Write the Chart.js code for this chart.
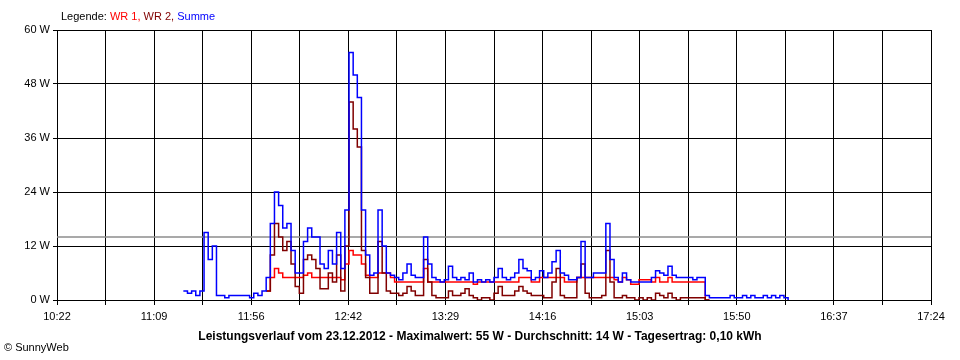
<!DOCTYPE html>
<html>
<head>
<meta charset="utf-8">
<script src="https://cdn.jsdelivr.net/npm/chart.js@4/dist/chart.umd.min.js"></script>
<style>
  body { margin: 0; background: #fff; }
  #wrap { position: relative; width: 960px; height: 360px; font-family: 'Liberation Sans', Arial, sans-serif; }
  #legend { position: absolute; left: 61px; top: 10px; font-size: 11px; color: #000; }
  #caption { position: absolute; left: 0; top: 329px; width: 960px; text-align: center; font-size: 12px; font-weight: bold; }
  #copy { position: absolute; left: 4px; top: 341px; font-size: 11px; }
</style>
</head>
<body>
<div id="wrap">
  <canvas id="chart"></canvas>
  <div id="legend">Legende: <span style="color:#ff0000">WR 1,</span> <span style="color:#800000">WR 2,</span> <span style="color:#0000ff">Summe</span></div>
  <div id="caption">Leistungsverlauf vom 23.12.2012 - Maximalwert: 55 W - Durchschnitt: 14 W - Tagesertrag: 0,10 kWh</div>
  <div id="copy">© SunnyWeb</div>
</div>
<script>
// x axis: minutes after 10:22, one sample every 2 minutes starting at 11:23
const tickLabels = ['10:22', '11:09', '11:56', '12:42', '13:29', '14:16', '15:03', '15:50', '16:37', '17:24'];
const axisSpan = 422;     // 10:22 -> 17:24
const sampleStart = 61;
const sampleStep = 2;
const yTicks = [0, 12, 24, 36, 48, 60];
const average = 14;

// Summe (W)
const summe = [
  2, 1.5, 2, 1, 2, 15, 9, 12, 1, 1,
  0.5, 1, 1, 1, 1, 1, 0.5, 1.5, 1, 2,
  5, 17, 24, 21, 16, 17, 11, 6, 6, 13,
  16, 14, 14, 8, 7, 11, 8, 15, 7, 20,
  55, 50, 45, 20, 10, 5.5, 6, 20, 12, 6,
  5.5, 5, 4.5, 6, 8, 5.5, 5, 5, 14, 8,
  5, 4.5, 4, 4.5, 7.5, 5, 4.5, 5, 4.5, 6,
  4, 4.5, 4, 4.5, 4, 5, 7, 5, 4.5, 5,
  6, 9, 7, 6.5, 4.5, 5, 6.5, 5, 6, 8.5,
  11, 6, 5.5, 4.5, 4.5, 5, 13, 5, 5, 6,
  6, 6, 17, 9, 5, 4, 6, 4.5, 4, 4,
  4, 4, 4, 5, 6.5, 6, 5.5, 7.5, 5.5, 5,
  5, 5, 5, 4.5, 5, 5, 1, 0.5, 0.5, 0.5,
  0.5, 0.5, 1, 0.5, 0.5, 1, 0.5, 1, 0.5, 0.5,
  1, 0.5, 1, 0.5, 1, 0.5, 0
];

// WR 1 (W)
const wr1 = [
  null, null, null, null, null, null, null, null, null, null,
  null, null, null, null, null, null, null, null, null, null,
  2, 5, 7, 6, 5, 5, 5, 5, 5, 5.5,
  6, 5, 5, 5, 5, 5, 5, 5, 4.5, 8,
  11, 10, 10, 8, 5.5, 5, 5, 6, 6, 6,
  5, 4, 4, 4, 4, 4, 4, 4, 7, 4,
  4, 4, 4, 4, 4, 4, 4, 4, 4, 4,
  3.5, 4, 4, 4, 4, 4, 4, 4, 4, 4,
  4, 5, 5, 5, 4, 4, 5, 5, 5, 5,
  5, 5, 4, 4, 4, 5, 5, 5, 5, 5,
  5, 5, 5, 5, 4.5, 4, 5, 4.5, 3.5, 3.5,
  4.5, 4.5, 4.5, 4, 5, 4, 4, 5, 4, 4,
  4, 4, 4, 4, 4, 4, 0, 0, null, null,
  null, null, null, null, null, null, null, null, null, null,
  null, null, null, null, null, null, null
];

// WR 2 (W)
const wr2 = [
  null, null, null, null, null, null, null, null, null, null,
  null, null, null, null, null, null, null, null, null, null,
  2, 10, 17, 14, 11, 13, 8, 3, 1.5, 9,
  10, 9, 7, 2.5, 2.5, 6, 4, 10, 2, 12,
  44, 38, 34, 11, 5, 1.5, 1.5, 13, 6, 2,
  1.5, 1.5, 1, 1.5, 3, 2, 1, 1, 9, 4,
  1, 0.5, 0.5, 0.5, 2, 1, 1, 1.5, 2.5, 1,
  0.5, 0, 0.5, 0.5, 0, 1.5, 3, 1, 1, 1,
  2, 3, 2, 1.5, 1, 1, 1, 0.5, 0.5, 4,
  7, 1, 0.5, 0.5, 0.5, 5, 8, 1.5, 0.5, 0.5,
  0.5, 1, 11, 4, 0.5, 0.5, 1, 0.5, 0.5, 0,
  0.5, 0, 0.5, 0, 1.5, 1, 0.5, 1.5, 0.5, 0,
  0.5, 0.5, 0.5, 0.5, 0.5, 0.5, 0, 0, null, null,
  null, null, null, null, null, null, null, null, null, null,
  null, null, null, null, null, null, null
];

const toPoints = arr => arr.map((v, i) => ({ x: sampleStart + i * sampleStep, y: v }));

// each value holds until the next sample
const lineStyle = {
  stepped: 'before',
  borderWidth: 1.5,
  pointRadius: 0,
  fill: false,
  spanGaps: false,
};

const tickFont = { family: "'Liberation Sans', Arial, sans-serif", size: 11 };

new Chart(document.getElementById('chart'), {
  type: 'line',
  data: {
    datasets: [
      { ...lineStyle, label: 'Summe', data: toPoints(summe), borderColor: '#0000ff', order: 0 },
      { ...lineStyle, label: 'WR 2', data: toPoints(wr2), borderColor: '#800000', order: 1 },
      { ...lineStyle, label: 'WR 1', data: toPoints(wr1), borderColor: '#ff0000', order: 2 },
      {
        label: 'Durchschnitt',
        data: [{ x: 0, y: average }, { x: axisSpan, y: average }],
        borderColor: '#8c8c8c',
        borderWidth: 1.5,
        pointRadius: 0,
        order: 3,
      },
    ],
  },
  options: {
    responsive: true,
    maintainAspectRatio: false,
    animation: false,
    layout: { padding: { top: 30, right: 29, left: 0, bottom: 0 } },
    plugins: {
      legend: { display: false },
      tooltip: { enabled: false },
    },
    scales: {
      x: {
        type: 'linear',
        min: 0,
        max: axisSpan,
        afterBuildTicks: scale => {
          // major ticks every 47 min with a gridline halfway between
          const n = (tickLabels.length - 1) * 2;
          scale.ticks = Array.from({ length: n + 1 }, (_, i) => ({ value: i * axisSpan / n }));
        },
        afterFit: scale => { scale.height = 60; },
        grid: { color: '#000', lineWidth: 1, tickLength: 5, tickColor: '#000' },
        border: { color: '#000', width: 1 },
        ticks: {
          autoSkip: false,
          maxRotation: 0,
          padding: 5,
          color: '#000',
          font: tickFont,
          callback: (value, index) => (index % 2 === 0 ? tickLabels[index / 2] : ''),
        },
      },
      y: {
        min: 0,
        max: 60,
        afterBuildTicks: scale => { scale.ticks = yTicks.map(v => ({ value: v })); },
        afterFit: scale => { scale.width = 57; },
        grid: { color: '#000', lineWidth: 1, tickLength: 4, tickColor: '#000' },
        border: { color: '#000', width: 1 },
        ticks: {
          padding: 3,
          color: '#000',
          font: tickFont,
          callback: value => value + ' W',
        },
      },
    },
  },
});
</script>
</body>
</html>
